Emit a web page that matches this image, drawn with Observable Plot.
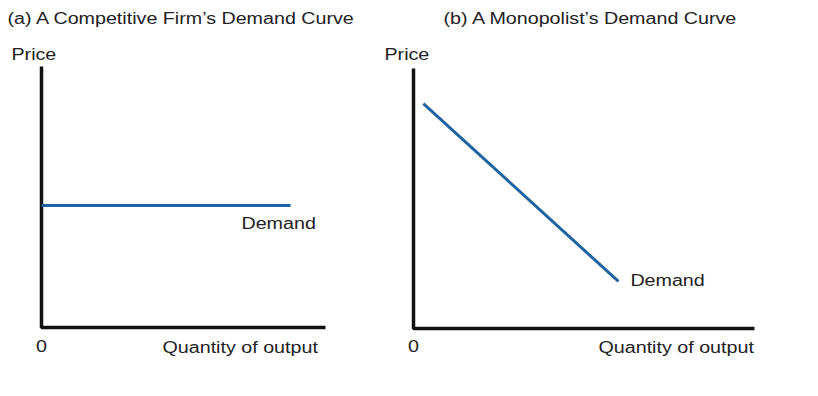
<!DOCTYPE html>
<html>
<head>
<meta charset="utf-8">
<script src="https://cdn.jsdelivr.net/npm/d3@7"></script>
<script src="https://cdn.jsdelivr.net/npm/@observablehq/plot@0.6"></script>
<style>
  html, body { margin: 0; padding: 0; background: #fff; }
  #wrap { position: relative; width: 818px; height: 396px; overflow: hidden; }
  #wrap svg { position: absolute; top: 0; }
</style>
</head>
<body>
<div id="wrap"></div>
<script>
// ---- Data ----
const titles = ["(a) A Competitive Firm’s Demand Curve", "(b) A Monopolist’s Demand Curve"];
const yLabel = "Price";
const xLabel = "Quantity of output";
const originLabel = "0";
const curveLabel = "Demand";

// axis corner: top of price axis -> origin -> end of quantity axis
const axisX = [0, 0, 10];
const axisY = [10, 0, 0];

// (a) competitive firm: horizontal demand curve
const compQ = [0, 8.77];
const compP = [4.67, 4.67];
const compLabelAt = [7.04, 3.98];

// (b) monopolist: downward sloping demand curve
const monoQ = [0.29, 6.01];
const monoP = [8.65, 1.81];
const monoLabelAt = [6.36, 1.85];

const FONT = "Liberation Sans, Arial, sans-serif";
const TEXT = "#222";
const BLUE = "#1f63a2";
const STRETCH = 1.23;

function panel({title, q, p, labelAt, left, width, m, titleDx, titleDy, priceDx, priceDy, zeroDy, qDx, qDy}) {
  const axisData = axisX.map((x, i) => ({x, y: axisY[i]}));
  const curve = q.map((x, i) => ({x, y: p[i]}));
  const svg = Plot.plot({
    width, height: 396,
    marginLeft: m[0], marginRight: m[1], marginTop: m[2], marginBottom: m[3],
    x: {domain: [0, 10], axis: null},
    y: {domain: [0, 10], axis: null},
    style: {fontFamily: FONT, fontSize: "16px", color: TEXT, background: "transparent"},
    marks: [
      Plot.line(axisData, {x: "x", y: "y", stroke: "#111", strokeWidth: 3.5, strokeLinejoin: "miter", strokeLinecap: "butt"}),
      Plot.line(curve, {x: "x", y: "y", stroke: BLUE, strokeWidth: 3, strokeLinecap: "butt"}),
      Plot.text([curveLabel], {x: () => labelAt[0], y: () => labelAt[1], text: d => d, textAnchor: "start", fill: TEXT, fontSize: 16}),
      Plot.text([title], {frameAnchor: "top-left", dx: titleDx, dy: titleDy, text: d => d, textAnchor: "start", lineAnchor: "middle", fill: TEXT, fontSize: 16}),
      Plot.text([yLabel], {frameAnchor: "top-left", dx: priceDx, dy: priceDy, text: d => d, textAnchor: "start", lineAnchor: "middle", fill: TEXT, fontSize: 16}),
      Plot.text([originLabel], {frameAnchor: "bottom-left", dx: 0, dy: zeroDy, text: d => d, textAnchor: "middle", lineAnchor: "middle", fill: TEXT, fontSize: 16}),
      Plot.text([xLabel], {frameAnchor: "bottom-left", dx: qDx, dy: qDy, text: d => d, textAnchor: "start", lineAnchor: "middle", fill: TEXT, fontSize: 16})
    ]
  });
  svg.style.left = left + "px";
  document.getElementById("wrap").appendChild(svg);
  svg.querySelectorAll("text").forEach(t => {
    const w = t.getComputedTextLength();
    if (w > 0) {
      t.setAttribute("textLength", (w * STRETCH).toFixed(1));
      t.setAttribute("lengthAdjust", "spacingAndGlyphs");
    }
  });
}

panel({title: titles[0], q: compQ, p: compP, labelAt: compLabelAt,
  left: 0, width: 380, m: [41, 55, 66, 69],
  titleDx: -34, titleDy: -48, priceDx: -30, priceDy: -12, zeroDy: 19, qDx: 121, qDy: 20});

panel({title: titles[1], q: monoQ, p: monoP, labelAt: monoLabelAt,
  left: 372, width: 446, m: [41, 64, 68, 68],
  titleDx: 30, titleDy: -50, priceDx: -29, priceDy: -14, zeroDy: 18, qDx: 185, qDy: 19});
</script>
</body>
</html>
